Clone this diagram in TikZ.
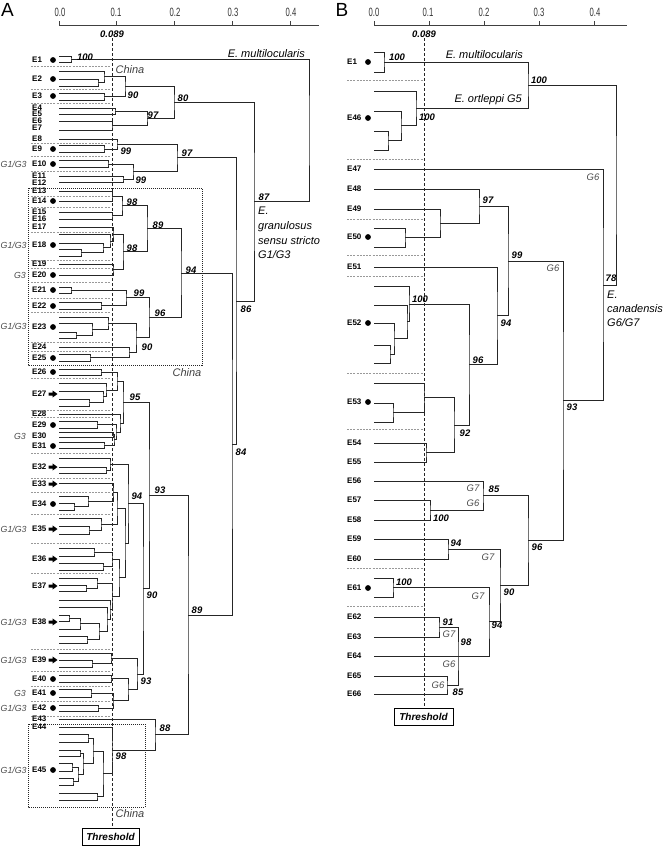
\documentclass[tikz,border=0pt]{standalone}
\usepackage{fontspec}
\usepackage{graphicx}
\setmainfont{Liberation Sans}
\usetikzlibrary{calc}
\newcommand\nd[4]{\path let \p1=($(#3)!0.5!(#4)$) in coordinate (#1) at (#2pt,\y1);\draw[tree] (#3) -| (#1) |- (#4);}
\newcommand\arrw[1]{\fill[black] (48.5,{#1-1.5}) -- (52.5,{#1-1.5}) -- (52.5,{#1-3.6}) -- (57.5,#1) -- (52.5,{#1+3.6}) -- (52.5,{#1+1.5}) -- (48.5,{#1+1.5}) -- cycle;}
\newcommand\tkl[1]{\scalebox{0.64}[1]{#1}}
\begin{document}
\begin{tikzpicture}[x=1pt,y=-1pt,
 tree/.style={draw=black!85,line width=0.6pt},
 sepl/.style={draw=black!40,line width=0.4pt,dash pattern=on 2pt off 1.2pt},
 thr/.style={draw=black!85,line width=0.6pt,dash pattern=on 3pt off 2pt},
 axis/.style={draw=black!75,line width=0.5pt},
 chinabox/.style={draw=black!85,line width=0.7pt,dash pattern=on 1pt off 1pt},
 leaflab/.style={font=\fontsize{8}{8}\selectfont\bfseries,anchor=west,inner sep=0pt},
 boot/.style={font=\fontsize{9.5}{10}\selectfont\bfseries\itshape,inner sep=0pt},
 glab/.style={font=\fontsize{9.5}{10}\selectfont\itshape,text=black!70,inner sep=0pt},
 glabA/.style={font=\fontsize{8.8}{9}\selectfont\itshape,text=black!70,inner sep=0pt,anchor=west},
 taxon/.style={font=\fontsize{11}{11}\selectfont\itshape,inner sep=0pt},
 ticklab/.style={font=\fontsize{12}{12}\selectfont,text=black!80,inner sep=0pt},
 dot/.style={circle,fill=black,inner sep=0pt,minimum size=5.8pt},
 thrbox/.style={draw=black,line width=0.7pt,font=\fontsize{10}{10}\selectfont\bfseries\itshape,minimum width=57pt,minimum height=17pt,inner sep=0pt},
 panel/.style={font=\fontsize{19}{19}\selectfont,inner sep=0pt}
]
\useasboundingbox (0,0) rectangle (664,846);

% ================= PANEL A =================
\node[panel] (pA) at (7.5,10) {A};
\draw[axis] (59,25.7) -- (319,25.7);
\foreach \t/\l/\c in {59/0.0/60,116/0.1/116,174/0.2/175,232/0.3/233,290/0.4/291}{
  \draw[axis] (\t,25.7) -- (\t,20.5);
  \node[ticklab] (tA\l) at (\c,12) {\tkl{\l}};}
\node[boot] (thvA) at (112,34) {0.089};

% separators
\foreach \y in {66,89,103,143,156,171,196,207,232,260,268,282,298,312,342,351,378,410,417,453,478,492,514,543,573,649,671,686,701,716}
  \draw[sepl] (31,\y) -- (110,\y);

% China boxes
\draw[chinabox] (28,188) rectangle (202,365);
\draw[chinabox] (28,724) rectangle (145,807);

% leaves A
\foreach \n/\y in {a1a/56,a1b/62,a2a/71,a2b/79,a2c/86,a3a/93,a3b/100,a4/108,a5/114,a6/121,a7/130,
 a8/139,a9a/145.7,a9b/152.3,a10a/160.7,a10b/167.3,a11/176,a12/182,a13/191,a14/201,a15/212,a16/219,
 a17/227,a18a/234,a18b/243,a18c/249,a18d/256,a19/264,a20/275,a21a/287,a21b/293,a22a/302,a22b/309,
 a23a/317,a23b/323,a23c/332,a23d/338,a24/347,a25a/354,a25b/361,a26a/369,a26b/375,
 a27a/383,a27b/391,a27c/399,a27d/406,a28/414,a29a/421,a29b/428,a30a/432,a30b/437,a31a/442,a31b/448,
 a32a/458,a32b/467,a32c/473,a33/483,a34a/496,a34b/503,a34c/510,a35a/518,a35b/526,a35c/534,
 a36a/548,a36b/556,a36c/563,a36d/570,a37a/578,a37b/585,a37c/591,
 a38a/600,a38b/607,a38c/615,a38d/621,a38e/629,a38f/636,a38g/643,a39a/653,a39b/660,a39c/667,
 a40a/675,a40b/682,a41a/689,a41b/697,a42a/705,a42b/711,a43/719,a44/727,
 a45a/734,a45b/742,a45c/750,a45d/756,a45e/763,a45f/771,a45g/778,a45h/785,a45i/793,a45j/800}
 {\coordinate (\n) at (59,\y);}

% internal nodes A
\nd{nE1}{71}{a1a}{a1b}
\nd{n2a}{98}{a2b}{a2c}
\nd{n2}{104}{a2a}{n2a}
\nd{n3}{104}{a3a}{a3b}
\nd{n90a}{125}{n2}{n3}
\nd{n45}{115}{a4}{a5}
\nd{n67}{112}{a6}{a7}
\nd{n97a}{147}{n45}{n67}
\nd{n80}{174}{n90a}{n97a}
\nd{n9}{104}{a9a}{a9b}
\nd{n89x}{117}{a8}{n9}
\nd{n10}{108}{a10a}{a10b}
\nd{n1112}{123}{a11}{a12}
\nd{n99b}{133}{n10}{n1112}
\nd{n97b}{177}{n89x}{n99b}
\nd{n1314}{112}{a13}{a14}
\nd{n1516}{112}{a15}{a16}
\nd{n98a}{122}{n1314}{n1516}
\nd{n18a}{81}{a18c}{a18d}
\nd{n18b}{103}{a18b}{n18a}
\nd{n18}{110}{a18a}{n18b}
\nd{n1718}{113}{a17}{n18}
\nd{n1920}{113}{a19}{a20}
\nd{n98b}{123}{n1718}{n1920}
\nd{n89a}{147}{n98a}{n98b}
\nd{n21}{71}{a21a}{a21b}
\nd{n22}{101}{a22a}{a22b}
\nd{n99c}{126}{n21}{n22}
\nd{n23a}{76}{a23c}{a23d}
\nd{n23b}{92}{a23b}{n23a}
\nd{n23}{108}{a23a}{n23b}
\nd{n25}{90}{a25a}{a25b}
\nd{n2425}{129}{a24}{n25}
\nd{n90b}{136}{n23}{n2425}
\nd{n96a}{149}{n99c}{n90b}
\nd{n94a}{181}{n89a}{n96a}
\nd{n26}{101}{a26a}{a26b}
\nd{n27a}{89}{a27c}{a27d}
\nd{n27b}{103}{a27b}{n27a}
\nd{n27}{106}{a27a}{n27b}
\nd{n2627}{117}{n26}{n27}
\nd{n29}{97}{a29a}{a29b}
\nd{n30}{113}{a30a}{a30b}
\nd{n31}{104}{a31a}{a31b}
\nd{n3031}{114}{n30}{n31}
\nd{n2931}{116}{n29}{n3031}
\nd{n2831}{120}{a28}{n2931}
\nd{n95}{123}{n2627}{n2831}
\nd{n32a}{106}{a32b}{a32c}
\nd{n32}{110}{a32a}{n32a}
\nd{n34a}{74}{a34b}{a34c}
\nd{n34}{88}{a34a}{n34a}
\nd{n3334}{113}{a33}{n34}
\nd{n35a}{89}{a35b}{a35c}
\nd{n35}{101}{a35a}{n35a}
\nd{n3335}{117}{n3334}{n35}
\nd{n36a}{94}{a36a}{a36b}
\nd{n36b}{103}{a36c}{a36d}
\nd{n36}{112}{n36a}{n36b}
\nd{n37a}{86}{a37b}{a37c}
\nd{n37}{97}{a37a}{n37a}
\nd{n38a}{69}{a38c}{a38d}
\nd{n38b}{80}{n38a}{a38e}
\nd{n38c}{87}{a38f}{a38g}
\nd{n38d}{99}{n38b}{n38c}
\nd{n38e}{107}{a38b}{n38d}
\nd{n38}{110}{a38a}{n38e}
\nd{n3738}{112}{n37}{n38}
\nd{n3638}{119}{n36}{n3738}
\nd{n125}{125}{n3335}{n3638}
\nd{n94b}{128}{n32}{n125}
\nd{n39a}{92}{a39b}{a39c}
\nd{n39}{111}{a39a}{n39a}
\nd{n40}{111}{a40a}{a40b}
\nd{n41}{91}{a41a}{a41b}
\nd{n42}{98}{a42a}{a42b}
\nd{n4142}{113}{n41}{n42}
\nd{n4042}{128}{n40}{n4142}
\nd{n93b}{137}{n39}{n4042}
\nd{n90c}{143}{n94b}{n93b}
\nd{n93a}{149}{n95}{n90c}
\nd{n45a}{88}{a45a}{a45b}
\nd{n45b}{80}{a45c}{a45d}
\nd{n45c}{72}{a45e}{a45f}
\nd{n45d}{73}{a45g}{a45h}
\nd{n45e}{97}{a45i}{a45j}
\nd{n45f}{78}{n45c}{n45d}
\nd{n45g}{83}{n45b}{n45f}
\nd{n45h}{93}{n45a}{n45g}
\nd{n45i}{103}{n45h}{n45e}
\nd{n4445}{112}{a44}{n45i}
\nd{n88}{155}{a43}{n4445}
\nd{n89b}{188}{n93a}{n88}
\nd{n84}{232}{n94a}{n89b}
\nd{n86}{236}{n97b}{n84}
\nd{nG}{254}{n80}{n86}
\nd{nR}{309}{nE1}{nG}

% threshold A
\coordinate (thAt) at (112,38);
\node[thrbox] (thA) at (110.5,836.5) {Threshold};
\draw[thr] (thAt) -- (thAt |- thA.north);

% leaf labels A
\foreach \t/\y in {1/60,2/79,3/96,4/107.5,5/114,6/120.5,7/128,8/139,9/149,10/164,11/175.5,12/182.5,13/191,14/201,15/212,16/219,17/227,18/245,19/264,20/275,21/290,22/306,23/327,24/347,25/358,26/372,27/394,28/414,29/425,30/436,31/446,32/467,33/484,34/504,35/529,36/559,37/586,38/622,39/660,40/679,41/693,42/708,43/719,44/727,45/770}
  \node[leaflab] (lA\t) at (32,\y) {E\t};
\foreach \y in {60,79,96,149,164,201,245,275,290,306,327,358,372,425,446,504,679,693,708,770}
  \node[dot] (dA\y) at (53,\y) {};
\foreach \y in {394,467,484,529,559,586,622,660} {\arrw{\y}}
\foreach \y in {164,245,326,529,622,660,708,770}
  \node[glabA] (gA\y) at (0.5,\y) {G1/G3};
\foreach \y in {275,436,693}
  \node[glabA,anchor=east] (hA\y) at (26,\y) {G3};

% bootstrap A
\foreach \n/\x/\y/\v in {b1/85/57/100,b2/133/95/90,b3/153/115/97,b4/183/98/80,b5/126/151/99,b6/141/180/99,
 b7/187/153/97,b8/132/202/98,b9/158/225/89,b10/132/248/98,b11/191/270/94,b12/139/293/99,b13/160/313/96,
 b14/147/347/90,b15/246/309/86,b16/264/197/87,b17/135/397/95,b18/137/496/94,b19/160/490/93,b20/152/595/90,
 b21/146/681/93,b22/165/728/88,b23/121/756/98,b24/197/610/89,b25/241/452/84}
  \node[boot] (\n) at (\x,\y) {\v};

% taxon labels A
\node[taxon,anchor=east] (tmA) at (305,54) {E. multilocularis};
\node[taxon,text=black!75] (chA1) at (130,70) {China};
\node[taxon,text=black!75] (chA2) at (187,373) {China};
\node[taxon,text=black!75] (chA3) at (130,814) {China};
\node[taxon,anchor=west] (tg1) at (258,211) {E.};
\node[taxon,anchor=west] (tg2) at (258,227) {granulosus};
\node[taxon,anchor=west] (tg3) at (258,241) {sensu stricto};
\node[taxon,anchor=west] (tg4) at (258,255) {G1/G3};

% ================= PANEL B =================
\node[panel] (pB) at (342,10) {B};
\draw[axis] (374,25.7) -- (627,25.7);
\foreach \t/\l/\c in {374/0.0/374,429/0.1/428,484/0.2/484,539/0.3/539,594/0.4/595}{
  \draw[axis] (\t,25.7) -- (\t,20.5);
  \node[ticklab] (tB\l) at (\c,12) {\tkl{\l}};}
\node[boot] (thvB) at (424,34) {0.089};

\foreach \y in {80,159,219,255,276,373,429,568,606}
  \draw[sepl] (347,\y) -- (424,\y);

\foreach \n/\y in {b1a/52,b1b/72,b46a/91,b46b/111,b46c/131,b46d/150,b47/169,b48/189,b49/209,b50a/228,b50b/247,
 b51/267,b52a/286,b52b/305,b52c/323,b52d/345,b52e/363,b53a/383,b53b/403,b53c/422,b54/443,b55/462,
 b56/481,b57/500,b58/520,b59/539,b60/559,b61a/578,b61b/597,b62/617,b63/637,b64/656,b65/676,b66/694}
 {\coordinate (\n) at (374,\y);}

\nd{mE1}{384}{b1a}{b1b}
\nd{m46a}{388}{b46c}{b46d}
\nd{m46b}{401}{b46b}{m46a}
\nd{m46}{416}{b46a}{m46b}
\nd{m100}{528}{mE1}{m46}
\nd{m50}{405}{b50a}{b50b}
\nd{m4950}{440}{b49}{m50}
\nd{m97}{479}{b48}{m4950}
\nd{m52a}{390}{b52d}{b52e}
\nd{m52b}{394}{b52c}{m52a}
\nd{m52c}{407}{b52b}{m52b}
\nd{m52}{409}{b52a}{m52c}
\nd{m53a}{393}{b53b}{b53c}
\nd{m53}{424}{b53a}{m53a}
\nd{m54}{426}{b54}{b55}
\nd{m92}{454}{m53}{m54}
\nd{m96a}{469}{m52}{m92}
\nd{m94a}{497}{b51}{m96a}
\nd{m99}{508}{m97}{m94a}
\nd{m5758}{430}{b57}{b58}
\nd{m85}{483}{b56}{m5758}
\nd{m5960}{448}{b59}{b60}
\nd{mE61}{393}{b61a}{b61b}
\nd{m6263}{439}{b62}{b63}
\nd{m6566}{447}{b65}{b66}
\nd{m98}{458}{m6263}{m6566}
\draw[tree] (b64) -- (m98 |- b64);
\nd{m94c}{489}{mE61}{m98}
\nd{m90}{500}{m5960}{m94c}
\nd{m96}{528}{m85}{m90}
\nd{m93}{563}{m99}{m96}
\nd{m78}{603}{b47}{m93}
\nd{mR}{616}{m100}{m78}

\coordinate (thBt) at (424,38);
\node[thrbox,minimum width=59pt] (thB) at (423.5,716.5) {Threshold};
\draw[thr] (thBt) -- (thBt |- thB.north);

\foreach \t/\y in {1/62,46/118,47/169,48/189,49/209,50/237,51/267,52/323,53/402,54/443,55/462,56/481,57/500,58/520,59/539,60/559,61/588,62/617,63/637,64/656,65/676,66/694}
  \node[leaflab] (lB\t) at (347,\y) {E\t};
\foreach \y in {62,118,237,323,402,588}
  \node[dot] (dB\y) at (368,\y) {};

\foreach \n/\x/\y/\v in {c1/397/57/100,c2/539/80/100,c3/427/117/100,c4/488/200/97,c5/517/255/99,c6/420/299/100,
 c7/506/323/94,c8/478/360/96,c9/572/407/93,c10/465/433/92,c11/611/278/78,c12/494/489/85,c13/441/518/100,
 c14/456/543/94,c15/537/547/96,c16/404/582/100,c17/509/592/90,c18/448/622/91,c19/497/625/94,c20/466/642/98,c21/458/692/85}
  \node[boot] (\n) at (\x,\y) {\v};

\foreach \n/\x/\y/\v in {g1/593/177/G6,g2/553/268/G6,g3/473/488/G7,g4/473/503/G6,g5/488/557/G7,g6/478/596/G7,
 g7/449/634/G7,g8/449/664/G6,g9/438/685/G6}
  \node[glab] (\n) at (\x,\y) {\v};

\node[taxon,anchor=east] (tmB) at (523,55) {E. multilocularis};
\node[taxon,anchor=east] (toB) at (522,100) {E. ortleppi G5};
\node[taxon,anchor=west] (tc1) at (607,295) {E.};
\node[taxon,anchor=west] (tc2) at (607,309) {canadensis};
\node[taxon,anchor=west] (tc3) at (607,323) {G6/G7};
\end{tikzpicture}
\end{document}
